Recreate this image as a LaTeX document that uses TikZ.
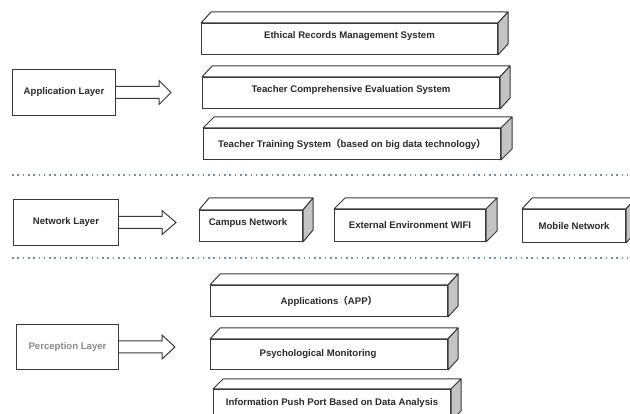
\documentclass[tikz,border=0pt]{standalone}
\usepackage{fontspec}
\setmainfont{Liberation Sans}
\newfontfamily\cjk{Noto Sans CJK SC}
\definecolor{linec}{HTML}{3A3A3A}
\definecolor{txt}{HTML}{2A2A2A}
\definecolor{ptxt}{HTML}{8A8A8A}
\definecolor{sidegray}{HTML}{C4C4C4}
\definecolor{dotc}{HTML}{6F8FAE}
\tikzset{
  slabface/.style={draw=linec, line width=1pt, fill=white, inner sep=0pt},
  slabtop/.style={draw=linec, line width=1pt, fill=white, line join=round},
  slabside/.style={draw=linec, line width=1pt, fill=sidegray, line join=round},
  slabtext/.style={font=\bfseries\fontsize{9.6}{11}\selectfont, text=txt, inner sep=0pt},
  layerbox/.style={draw=linec, line width=1pt, fill=white, inner sep=0pt, anchor=north west,
    font=\bfseries\fontsize{9.6}{11}\selectfont, text=txt},
  blockarrow/.style={draw=linec, line width=1pt, fill=white, line join=miter},
  sepline/.style={draw=dotc, line width=1.8pt, dash pattern=on 1.6pt off 3.7pt},
}
\newcommand\slab[9]{%
  \node[slabface, anchor=north west, minimum width=#4pt, minimum height=#5pt] (#1) at (#2,#3) {};
  \draw[slabtop] (#1.north west) -- ++(#6pt,#7pt) -- ([shift={(#6pt,#7pt)}]#1.north east) -- (#1.north east) -- cycle;
  \draw[slabside] (#1.north east) -- ++(#6pt,#7pt) -- ([shift={(#6pt,#7pt)}]#1.south east) -- (#1.south east) -- cycle;
  \node[slabtext, #9] (#1-t) at (#1.center) {#8};
}
\newcommand\layerarrow[2]{% node name, tip distance
  \draw[blockarrow] ([yshift=6pt]#1.east) -- ++(43pt,0) -- ++(0,6pt) -- ([xshift=#2pt]#1.east)
    -- ([xshift=43pt,yshift=-12pt]#1.east) -- ++(0,6pt) -- ([yshift=-6pt]#1.east);
}
\begin{document}
\begin{tikzpicture}[x=1pt,y=-1pt]
\useasboundingbox (0,0) rectangle (630,414);
\clip (0,0) rectangle (630,414);
\fill[white] (0,0) rectangle (630,414);

% separators
\coordinate (s1a) at (12,175); \coordinate (s1b) at (632,175);
\coordinate (s2a) at (12,258); \coordinate (s2b) at (632,258);
\draw[sepline] (s1a) -- (s1b);
\draw[sepline] (s2a) -- (s2b);

% application layer
\slab{ers}{201}{23}{296}{31}{10}{11}{Ethical Records Management System}{yshift=3pt}
\slab{tces}{202}{77}{297}{31}{10}{11}{Teacher Comprehensive Evaluation System}{yshift=3pt}
\slab{tts}{203}{128}{297}{31}{11}{11}{Teacher Training System{\cjk （}based on big data technology{\cjk ）}}{}
\node[layerbox, minimum width=103pt, minimum height=46pt] (app) at (12,69) {Application Layer};
\layerarrow{app}{55}

% network layer
\slab{campus}{199}{210}{103}{31}{10}{12}{Campus Network}{xshift=-3pt,yshift=3pt}
\slab{wifi}{334}{209}{151}{32}{11}{11}{External Environment WIFI}{}
\slab{mobile}{522}{209}{103}{33}{10}{11}{Mobile Network}{}
\node[layerbox, minimum width=105pt, minimum height=46pt] (net) at (13,199) {Network Layer};
\layerarrow{net}{57}

% perception layer
\slab{apps}{210}{285}{237}{31}{10}{11}{Applications{\cjk （}APP{\cjk ）}}{}
\slab{psy}{210}{339}{237}{30}{10}{11}{Psychological Monitoring}{xshift=-11pt}
\slab{push}{213}{389}{237}{31}{10}{10}{Information Push Port Based on Data Analysis}{yshift=2pt}
\node[layerbox, minimum width=102pt, minimum height=45pt, text=ptxt] (per) at (16,324) {Perception Layer};
\layerarrow{per}{56}
\end{tikzpicture}
\end{document}
